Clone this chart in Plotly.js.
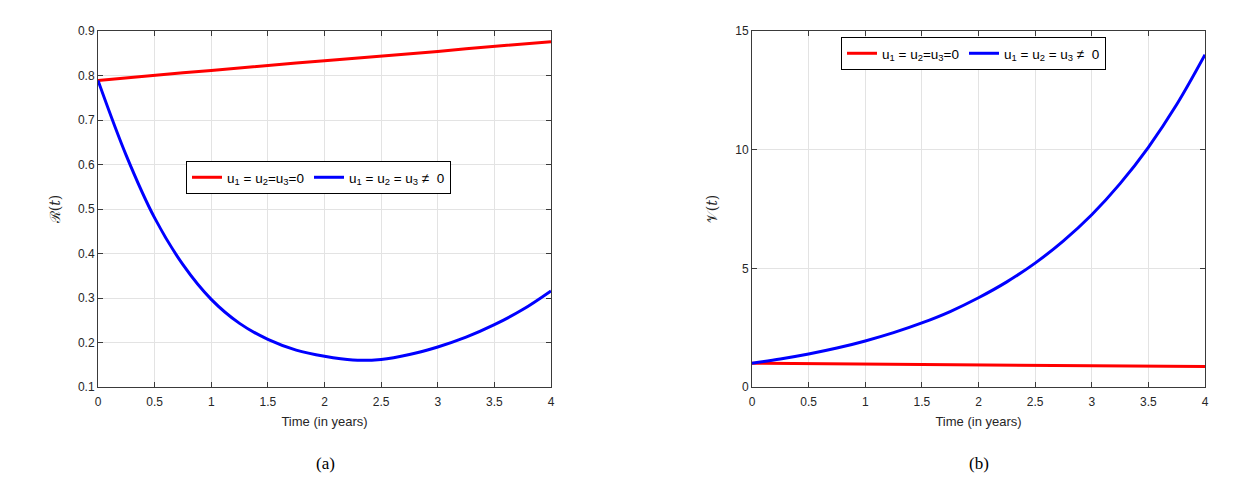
<!DOCTYPE html>
<html>
<head>
<meta charset="utf-8">
<script src="https://cdn.plot.ly/plotly-3.0.1.min.js"></script>
<style>html,body{margin:0;padding:0;background:#fff}#chart{width:1249px;height:495px}</style>
</head>
<body>
<div id="chart"></div>
<script>
// ---- data ----
const timeA = [0, 0.25, 0.5, 0.75, 1, 1.25, 1.5, 1.75, 2, 2.25, 2.5, 2.75, 3, 3.25, 3.5, 3.75, 4];
const rNoControl = [0.789, 0.795, 0.800, 0.806, 0.811, 0.817, 0.822, 0.828, 0.833, 0.838, 0.843, 0.849, 0.854, 0.860, 0.865, 0.871, 0.876];
const rControl   = [0.789, 0.620, 0.480, 0.375, 0.297, 0.243, 0.207, 0.183, 0.169, 0.1605, 0.162, 0.173, 0.190, 0.212, 0.240, 0.274, 0.316];

const timeB = [0, 0.25, 0.5, 0.75, 1, 1.25, 1.5, 1.75, 2, 2.25, 2.5, 2.75, 3, 3.25, 3.5, 3.75, 4];
const vNoControl = [1.0, 0.99, 0.98, 0.97, 0.965, 0.955, 0.948, 0.94, 0.93, 0.92, 0.912, 0.903, 0.895, 0.886, 0.877, 0.868, 0.86];
const vControl   = [1.0, 1.18, 1.39, 1.64, 1.94, 2.29, 2.70, 3.18, 3.76, 4.43, 5.22, 6.16, 7.26, 8.57, 10.1, 11.9, 14.0];

const xTicks = [0, 0.5, 1, 1.5, 2, 2.5, 3, 3.5, 4];
const yTicksA = [0.1, 0.2, 0.3, 0.4, 0.5, 0.6, 0.7, 0.8, 0.9];
const yTicksB = [0, 5, 10, 15];

const nameOff = 'u<sub>1</sub> = u<sub>2</sub>=u<sub>3</sub>=0';
const nameOn  = 'u<sub>1</sub> = u<sub>2</sub> = u<sub>3</sub> \u2260\u00a0\u00a00';

const W = 1249, H = 495;
const px = v => v / W, py = v => (H - v) / H;

const traces = [
  {x: timeA, y: rNoControl, name: nameOff, xaxis: 'x', yaxis: 'y', legend: 'legend', mode: 'lines', line: {color: '#ff0000', width: 3}},
  {x: timeA, y: rControl, name: nameOn, xaxis: 'x', yaxis: 'y', legend: 'legend', mode: 'lines', line: {color: '#0000ff', width: 3, shape: 'spline', smoothing: 1}},
  {x: timeB, y: vNoControl, name: nameOff, xaxis: 'x2', yaxis: 'y2', legend: 'legend2', mode: 'lines', line: {color: '#ff0000', width: 3}},
  {x: timeB, y: vControl, name: nameOn, xaxis: 'x2', yaxis: 'y2', legend: 'legend2', mode: 'lines', line: {color: '#0000ff', width: 3, shape: 'spline', smoothing: 1}}
];

const tickFont = {family: 'Liberation Sans, Arial, sans-serif', size: 12, color: '#262626'};
const axisCommon = {
  showline: true, mirror: 'ticks', linecolor: '#3a3a3a', linewidth: 1,
  ticks: 'inside', ticklen: 5, tickcolor: '#3a3a3a', tickwidth: 1,
  showgrid: true, gridcolor: '#e3e3e3', gridwidth: 1, zeroline: false,
  tickfont: tickFont, fixedrange: true
};
const xTitle = {text: 'Time (in years)', font: {family: 'Liberation Sans, Arial, sans-serif', size: 13, color: '#262626'}, standoff: 8};

const legendCommon = {
  orientation: 'h', bgcolor: '#ffffff', bordercolor: '#000000', borderwidth: 1,
  font: {family: 'Liberation Sans, Arial, sans-serif', size: 13.5, color: '#000000'},
  xanchor: 'left', yanchor: 'top', xref: 'paper', yref: 'paper',
  itemwidth: 30, tracegroupgap: 0
};

const layout = {
  width: W, height: H,
  margin: {l: 0, r: 0, t: 0, b: 0},
  paper_bgcolor: '#ffffff', plot_bgcolor: '#ffffff',
  showlegend: true,
  xaxis: Object.assign({}, axisCommon, {domain: [px(98), px(551)], range: [0, 4], tickvals: xTicks, anchor: 'y', title: xTitle, ticklabelstandoff: 4}),
  yaxis: Object.assign({}, axisCommon, {domain: [py(387), py(31)], range: [0.1, 0.9], tickvals: yTicksA, anchor: 'x',
    title: {text: '\u211B(<i>t</i>)', font: {family: 'DejaVu Serif, serif', size: 14, color: '#262626'}, standoff: 14}}),
  xaxis2: Object.assign({}, axisCommon, {domain: [px(752), px(1205)], range: [0, 4], tickvals: xTicks, anchor: 'y2', title: xTitle, ticklabelstandoff: 4}),
  yaxis2: Object.assign({}, axisCommon, {domain: [py(387), py(31)], range: [0, 15], tickvals: yTicksB, anchor: 'x2',
    title: {text: '\uD835\uDCB1(<i>t</i>)', font: {family: 'DejaVu Serif, serif', size: 14, color: '#262626'}, standoff: 14}}),
  legend: Object.assign({}, legendCommon, {x: px(186), y: py(161)}),
  legend2: Object.assign({}, legendCommon, {x: px(841), y: py(37)}),
  annotations: [
    {text: '(a)', xref: 'paper', yref: 'paper', x: px(325), y: py(463), xanchor: 'center', yanchor: 'middle', showarrow: false,
     font: {family: 'Liberation Serif, Times New Roman, serif', size: 17, color: '#000'}},
    {text: '(b)', xref: 'paper', yref: 'paper', x: px(979), y: py(463), xanchor: 'center', yanchor: 'middle', showarrow: false,
     font: {family: 'Liberation Serif, Times New Roman, serif', size: 17, color: '#000'}}
  ]
};

Plotly.newPlot('chart', traces, layout, {displayModeBar: false, staticPlot: true});
</script>
</body>
</html>
